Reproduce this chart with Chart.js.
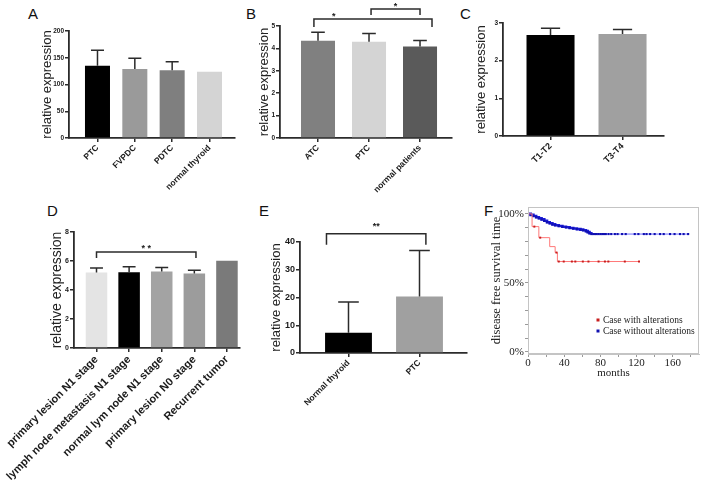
<!DOCTYPE html>
<html>
<head>
<meta charset="utf-8">
<title>expression panels</title>
<script src="https://cdn.jsdelivr.net/npm/chart.js@4.4.1/dist/chart.umd.min.js"></script>
<style>
  html, body { margin: 0; padding: 0; background: #fff; }
  body { position: relative; width: 708px; height: 485px; overflow: hidden; font-family: "Liberation Sans", Arial, sans-serif; }
  .box { position: absolute; }
  .tag { position: absolute; font-size: 15px; line-height: 1; color: #111; }
</style>
</head>
<body>
<div class="tag" style="left:28px;top:6px">A</div>
<div class="tag" style="left:246px;top:6px">B</div>
<div class="tag" style="left:460px;top:6px">C</div>
<div class="tag" style="left:47px;top:203px">D</div>
<div class="tag" style="left:259px;top:203px">E</div>
<div class="tag" style="left:484px;top:203px">F</div>

<div class="box" style="left:0;top:0;width:240px;height:200px"><canvas id="chartA"></canvas></div>
<div class="box" style="left:240px;top:0;width:220px;height:200px"><canvas id="chartB"></canvas></div>
<div class="box" style="left:460px;top:0;width:248px;height:200px"><canvas id="chartC"></canvas></div>
<div class="box" style="left:0;top:190px;width:245px;height:295px"><canvas id="chartD"></canvas></div>
<div class="box" style="left:240px;top:190px;width:230px;height:295px"><canvas id="chartE"></canvas></div>
<div class="box" style="left:470px;top:190px;width:238px;height:200px"><canvas id="chartF"></canvas></div>

<script>
// A
const catsA = ['PTC', 'FVPDC', 'PDTC', 'normal thyroid'];
const meanA = [135, 129, 126.5, 124];
const errA = [164, 149, 142.5, null];
const colorsA = ['#000000', '#9a9a9a', '#7f7f7f', '#d4d4d4'];
const ticksA = [0, 50, 100, 150, 200];

// B
const catsB = ['ATC', 'PTC', 'normal patients'];
const meanB = [4.34, 4.3, 4.08];
const errB = [4.72, 4.67, 4.35];
const colorsB = ['#808080', '#d4d4d4', '#5a5a5a'];
const ticksB = [0, 1, 2, 3, 4, 5];

// C
const catsC = ['T1-T2', 'T3-T4'];
const meanC = [2.68, 2.71];
const errC = [2.86, 2.83];
const colorsC = ['#000000', '#a0a0a0'];
const ticksC = [0, 1, 2, 3];

// D
const catsD = ['primary lesion N1 stage', 'lymph node metastasis N1 stage', 'normal lym node N1 stage', 'primary lesion N0 stage', 'Recurrent tumor'];
const meanD = [5.21, 5.22, 5.27, 5.14, 6.02];
const errD = [5.52, 5.6, 5.56, 5.36, null];
const colorsD = ['#e4e4e4', '#000000', '#a3a3a3', '#9c9c9c', '#7a7a7a'];
const ticksD = [0, 2, 4, 6, 8];

// E
const catsE = ['Normal thyroid', 'PTC'];
const meanE = [7.3, 20.4];
const errE = [18.4, 36.9];
const colorsE = ['#000000', '#a0a0a0'];
const ticksE = [0, 10, 20, 30, 40];

// F  (months, survival %, censored mark 1/0)
const kmAltT = [0, 4.5, 7, 12, 13.5, 24, 30, 31.5, 32.5, 34, 39.5, 48.5, 52.3, 60.6, 66.8, 78, 85, 88.8, 107, 122.7];
const kmAltS = [100, 90.8, 90.8, 82.8, 82.8, 76.3, 72, 72, 65.5, 65.5, 65.5, 65.5, 65.5, 65.5, 65.5, 65.5, 65.5, 65.5, 65.5, 65.5];
const kmAltC = [0, 0, 1, 0, 1, 0, 0, 1, 0, 1, 1, 1, 1, 1, 1, 1, 1, 1, 1, 1];
const kmNoT = [0, 3, 6, 9, 12, 15, 18, 21, 24, 27, 30, 34, 38, 42, 46, 50, 54, 58, 61, 64, 66, 68, 70,
  72, 74, 76, 78, 80, 82, 84, 86, 89, 92, 96, 99, 104, 108, 118, 122, 128, 131, 135, 140, 146, 150, 157, 162, 168, 172, 177];
const kmNoS = [100, 99.3, 98.5, 97.6, 96.8, 96, 95, 94, 93.2, 92.4, 91.8, 91.2, 90.7, 90.3, 89.8, 89.4, 89, 88.6, 88.2, 87.5, 86.8, 86, 85.4,
  85.4, 85.4, 85.4, 85.4, 85.4, 85.4, 85.4, 85.4, 85.4, 85.4, 85.4, 85.4, 85.4, 85.4, 85.4, 85.4, 85.4, 85.4, 85.4, 85.4, 85.4, 85.4, 85.4, 85.4, 85.4, 85.4, 85.4];
const kmXTicks = [0, 40, 80, 120, 160];
const kmYTicks = [0, 50, 100];

Chart.defaults.font.family = '"Liberation Sans", Arial, sans-serif';
Chart.defaults.color = '#1a1a1a';

// upper whisker + cap over each bar
function errorBarPlugin(tops, cap) {
  return {
    id: 'errorBars',
    afterDatasetsDraw(chart) {
      const meta = chart.getDatasetMeta(0);
      const ys = chart.scales.y;
      const c = chart.ctx;
      c.save();
      c.strokeStyle = '#2b2b2b';
      c.lineWidth = 1.5;
      meta.data.forEach((bar, i) => {
        if (tops[i] == null) return;
        const yp = ys.getPixelForValue(tops[i]);
        const half = bar.width * cap;
        c.beginPath();
        c.moveTo(bar.x, bar.y);
        c.lineTo(bar.x, yp);
        c.moveTo(bar.x - half, yp);
        c.lineTo(bar.x + half, yp);
        c.stroke();
      });
      c.restore();
    }
  };
}

// significance brackets
function sigPlugin(brackets) {
  return {
    id: 'sigBars',
    afterDraw(chart) {
      const xs = chart.scales.x, ys = chart.scales.y, c = chart.ctx;
      c.save();
      c.strokeStyle = '#2b2b2b';
      c.fillStyle = '#1a1a1a';
      c.lineWidth = 1.5;
      c.font = 'bold 9px "Liberation Sans", Arial';
      c.textAlign = 'center';
      c.textBaseline = 'alphabetic';
      brackets.forEach(b => {
        const x1 = xs.getPixelForValue(b.from), x2 = xs.getPixelForValue(b.to);
        const y = ys.getPixelForValue(b.y);
        c.beginPath();
        c.moveTo(x1, y + b.drop);
        c.lineTo(x1, y);
        c.lineTo(x2, y);
        c.lineTo(x2, y + b.drop);
        c.stroke();
        const tx = b.textAt != null ? xs.getPixelForValue(b.textAt) : (x1 + x2) / 2;
        c.fillText(b.text, tx, y - b.dy);
      });
      c.restore();
    }
  };
}

function makeBarChart(id, p) {
  return new Chart(document.getElementById(id), {
    type: 'bar',
    data: {
      datasets: [{
        data: p.vals.map((v, i) => ({ x: i, y: v })),
        backgroundColor: p.colors,
        borderWidth: 0,
        barPercentage: p.barPct,
        categoryPercentage: 1
      }]
    },
    options: {
      animation: false,
      responsive: true,
      maintainAspectRatio: false,
      layout: { padding: { top: p.padTop, right: p.padRight, left: 0, bottom: 0 } },
      plugins: { legend: { display: false }, tooltip: { enabled: false } },
      scales: {
        x: {
          type: 'linear',
          min: p.xMin,
          max: p.xMax,
          offset: false,
          grid: { display: true, drawOnChartArea: false, offset: false, tickLength: 4, color: '#2b2b2b', lineWidth: 1.5 },
          border: { display: true, color: '#2b2b2b', width: 1.8 },
          ticks: {
            stepSize: 1, includeBounds: false, autoSkip: false,
            minRotation: 45, maxRotation: 45, padding: 1,
            font: { size: p.labelSize, weight: 'bold' },
            callback: v => p.cats[v] !== undefined ? p.cats[v] : ''
          },
          afterFit: s => { s.height = p.xH; s.paddingLeft = 0; s.paddingRight = 0; }
        },
        y: {
          min: 0,
          max: p.ticks[p.ticks.length - 1],
          grid: { display: true, drawOnChartArea: false, tickLength: 4, color: '#2b2b2b', lineWidth: 1.5 },
          border: { display: true, color: '#2b2b2b', width: 1.8 },
          afterBuildTicks: s => { s.ticks = p.ticks.map(v => ({ value: v })); },
          ticks: { padding: 1, autoSkip: false, font: { size: p.tickSize, weight: 'bold' } },
          title: {
            display: true, text: 'relative expression', color: '#222',
            font: { size: p.titleSize }, padding: { top: p.titlePad, bottom: 0 }
          },
          afterFit: s => { s.width = p.yW; s.paddingTop = 0; s.paddingBottom = 0; }
        }
      }
    },
    plugins: [errorBarPlugin(p.errs, p.cap), sigPlugin(p.sig)]
  });
}

makeBarChart('chartA', {
  cats: catsA, vals: meanA, errs: errA, colors: colorsA, ticks: ticksA,
  xMin: -0.763, xMax: 3.683, barPct: 0.67,
  yW: 69, xH: 62, padTop: 31, padRight: 5,
  titleSize: 13, titlePad: 39.2, tickSize: 6.5, labelSize: 8.5, cap: 0.26, sig: []
});

makeBarChart('chartB', {
  cats: catsB, vals: meanB, errs: errB, colors: colorsB, ticks: ticksB,
  xMin: -0.745, xMax: 2.627, barPct: 0.667,
  yW: 40, xH: 62, padTop: 26, padRight: 8,
  titleSize: 13, titlePad: 16.2, tickSize: 6.5, labelSize: 8.5, cap: 0.2,
  sig: [
    { from: -0.08, to: 2.235, y: 5.31, drop: 8, text: '*', textAt: 0.31, dy: 0 },
    { from: 1.04, to: 2.0, y: 5.76, drop: 6, text: '*', dy: 0 }
  ]
});

makeBarChart('chartC', {
  cats: catsC, vals: meanC, errs: errC, colors: colorsC, ticks: ticksC,
  xMin: -0.66, xMax: 1.576, barPct: 0.667,
  yW: 43, xH: 64, padTop: 23, padRight: 44,
  titleSize: 13, titlePad: 13.2, tickSize: 6.5, labelSize: 9, cap: 0.2, sig: []
});

makeBarChart('chartD', {
  cats: catsD, vals: meanD, errs: errD, colors: colorsD, ticks: ticksD,
  xMin: -0.69, xMax: 4.4, barPct: 0.66,
  yW: 74, xH: 137, padTop: 42, padRight: 5,
  titleSize: 14, titlePad: 49.1, tickSize: 7, labelSize: 11, cap: 0.3,
  sig: [{ from: 0, to: 3.05, y: 6.62, drop: 6, text: '* *', dy: 1 }]
});

makeBarChart('chartE', {
  cats: catsE, vals: meanE, errs: errE, colors: colorsE, ticks: ticksE,
  xMin: -0.683, xMax: 1.669, barPct: 0.66,
  yW: 60, xH: 132, padTop: 52, padRight: 3,
  titleSize: 13, titlePad: 28.2, tickSize: 9, labelSize: 8.5, cap: 0.22,
  sig: [{ from: -0.31, to: 1.09, y: 43.0, drop: 11, text: '**', dy: 5 }]
});

// Kaplan-Meier legend + frame
const kmLegend = {
  id: 'kmLegend',
  afterDraw(chart) {
    const { ctx, chartArea } = chart;
    const x = chartArea.left + 70, y0 = chartArea.top + 113;
    ctx.save();
    ctx.strokeStyle = '#c4c4c4';
    ctx.lineWidth = 1;
    ctx.strokeRect(chartArea.left + 0.5, chartArea.top + 0.5, chartArea.width - 1, chartArea.height - 1);
    ctx.font = '9.5px "Liberation Serif", "Times New Roman", serif';
    ctx.textBaseline = 'middle';
    chart.data.datasets.forEach((ds, i) => {
      const y = y0 + i * 11;
      ctx.fillStyle = ds.pointBackgroundColor;
      ctx.fillRect(x - 1.5, y - 1.5, 3, 3);
      ctx.fillStyle = '#222';
      ctx.fillText(ds.label, x + 5, y);
    });
    ctx.restore();
  }
};

const serif = '"Liberation Serif", "Times New Roman", serif';

new Chart(document.getElementById('chartF'), {
  type: 'line',
  data: {
    datasets: [
      {
        label: 'Case with alterations',
        data: kmAltT.map((t, i) => ({ x: t, y: kmAltS[i] })),
        stepped: 'before',
        borderColor: '#ff7878',
        borderWidth: 1,
        pointStyle: 'rect',
        pointRadius: ctx => kmAltC[ctx.dataIndex] ? 1.4 : 0,
        pointBackgroundColor: '#c81e1e',
        pointBorderWidth: 0
      },
      {
        label: 'Case without alterations',
        data: kmNoT.map((t, i) => ({ x: t, y: kmNoS[i] })),
        stepped: 'before',
        borderColor: '#1a1ad6',
        borderWidth: 1,
        segment: {
          borderWidth: ctx => ctx.p1.parsed.x <= 70 ? 2.6 : 1,
          borderColor: ctx => ctx.p1.parsed.x <= 70 ? '#1a1ad6' : '#6a6aff'
        },
        pointStyle: 'rect',
        pointRadius: 1.5,
        pointBackgroundColor: '#1010b0',
        pointBorderWidth: 0
      }
    ]
  },
  options: {
    animation: false,
    responsive: true,
    maintainAspectRatio: false,
    layout: { padding: { top: 17, right: 9, left: 0, bottom: 0 } },
    plugins: { legend: { display: false }, tooltip: { enabled: false } },
    scales: {
      x: {
        type: 'linear', min: 0, max: 189,
        grid: { drawOnChartArea: false, tickLength: 3, color: '#9a9a9a' },
        border: { color: '#c4c4c4' },
        ticks: {
          stepSize: 20, includeBounds: false, autoSkip: false, maxRotation: 0, padding: 0,
          color: '#222', font: { family: serif, size: 11 },
          callback: v => kmXTicks.includes(v) ? String(v) : ''
        },
        title: { display: true, text: 'months', color: '#222', font: { family: serif, size: 11 }, padding: { top: 0, bottom: 10 } },
        afterFit: s => { s.height = 36; s.paddingLeft = 0; s.paddingRight = 0; }
      },
      y: {
        min: -1.5, max: 105,
        grid: { drawOnChartArea: false, tickLength: 3, color: '#9a9a9a' },
        border: { color: '#c4c4c4' },
        ticks: {
          stepSize: 10, includeBounds: false, autoSkip: false, padding: 1,
          color: '#222', font: { family: serif, size: 11 },
          callback: v => kmYTicks.includes(v) ? v + '%' : ''
        },
        title: { display: true, text: 'disease free survival time', color: '#222', font: { family: serif, size: 12.5 }, padding: { top: 19.5, bottom: 0 } },
        afterFit: s => { s.width = 58; s.paddingTop = 0; s.paddingBottom = 0; }
      }
    }
  },
  plugins: [kmLegend]
});
</script>
</body>
</html>
